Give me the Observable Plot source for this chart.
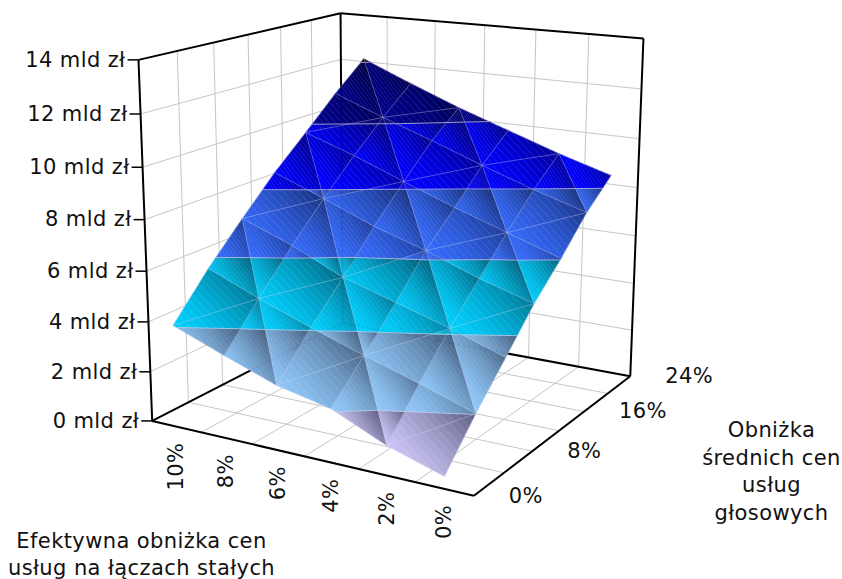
<!DOCTYPE html>
<html><head><meta charset="utf-8">
<script src="https://cdn.jsdelivr.net/npm/d3@7"></script>
<script src="https://cdn.jsdelivr.net/npm/@observablehq/plot@0.6"></script>
<style>html,body{margin:0;background:#fff}svg{display:block}</style>
</head><body>
<div id="chart"></div>
<script>
// Savings surface: fixed-link price cut (columns) against voice price cut (rows)
const fixedCuts = [0, 2, 4, 6, 8, 10];
const voiceCuts = [0, 4, 8, 12, 16, 20, 24];
const voiceTicks = [0, 8, 16, 24];
const valueTicks = [0, 2, 4, 6, 8, 10, 12, 14];
const savings0  = [0.47, 2.02, 3.43, 4.86, 6.04, 7.34, 8.36];
const savings2  = [1.14, 2.73, 4.16, 5.49, 6.75, 7.98, 9.00];
const savings4  = [2.08, 3.39, 4.80, 6.26, 7.46, 8.70, 9.72];
const savings6  = [2.53, 4.08, 5.43, 6.91, 8.23, 9.47, 10.45];
const savings8  = [3.27, 4.85, 6.37, 7.74, 9.03, 10.20, 11.26];
const savings10 = [4.05, 5.69, 7.14, 8.52, 9.74, 10.99, 12.12];
const savings = [savings0, savings2, savings4, savings6, savings8, savings10];

// Colour bands, one per 2 mld zł step: light end, dark end
const bands = [
  {lo: 0,  hi: 2,  light: [208, 202, 252], dark: [92, 92, 130]},
  {lo: 2,  hi: 4,  light: [144, 200, 250], dark: [66, 92, 124]},
  {lo: 4,  hi: 6,  light: [0, 206, 252],   dark: [0, 98, 124]},
  {lo: 6,  hi: 8,  light: [52, 106, 250],  dark: [24, 48, 124]},
  {lo: 8,  hi: 10, light: [0, 0, 254],     dark: [0, 0, 124]},
  {lo: 10, hi: 12, light: [0, 0, 140],     dark: [0, 0, 64]},
  {lo: 12, hi: 14, light: [0, 0, 30],      dark: [0, 0, 10]}
];

// View transform of the unit box (homogeneous camera matrix)
const camera = [
  [-304.4185, 278.5634, -23.72681, 473.3477],
  [-27.08330, -46.55789, -405.7433, 495.2772],
  [0.1136353, 0.1939761, -0.06141278, 1]
];
// Fixed cuts sit in the middle of six slots, voice cuts run wall to wall
const slots = 6;
const project = (a, b, z) => {
  const u = (a / 2 + 0.5) / slots, v = b / 24, t = z / 14;
  const [p, q, w] = camera.map((r) => r[0] * u + r[1] * v + r[2] * t + r[3]);
  return [p / w, q / w];
};
const A_MIN = -1, A_MAX = 11, B_MAX = 24, Z_MAX = 14;
const slotA = d3.range(0, slots + 1).map((k) => k * 2 - 1);
const slotB = d3.range(0, slots + 1).map((k) => k * 4);

// Each segment is projected into a row of the links table
const seg = (p0, p1) => {
  const [x1, y1] = project(...p0), [x2, y2] = project(...p1);
  return {x1, y1, x2, y2};
};

// Back walls and floor
const grid = [];
for (const a of slotA.slice(1, -1)) {
  grid.push(seg([a, 0, 0], [a, B_MAX, 0]), seg([a, B_MAX, 0], [a, B_MAX, Z_MAX]));
}
for (const b of slotB.slice(1, -1)) {
  grid.push(seg([A_MIN, b, 0], [A_MAX, b, 0]), seg([A_MAX, b, 0], [A_MAX, b, Z_MAX]));
}
for (const z of valueTicks.slice(1, -1)) {
  grid.push(seg([A_MAX, 0, z], [A_MAX, B_MAX, z]), seg([A_MAX, B_MAX, z], [A_MIN, B_MAX, z]));
}
const frame = [
  seg([A_MIN, 0, 0], [A_MAX, 0, 0]),
  seg([A_MIN, 0, 0], [A_MIN, B_MAX, 0]),
  seg([A_MAX, 0, 0], [A_MAX, B_MAX, 0]),
  seg([A_MIN, B_MAX, 0], [A_MAX, B_MAX, 0]),
  seg([A_MAX, 0, 0], [A_MAX, 0, Z_MAX]),
  seg([A_MAX, B_MAX, 0], [A_MAX, B_MAX, Z_MAX]),
  seg([A_MIN, B_MAX, 0], [A_MIN, B_MAX, Z_MAX]),
  seg([A_MAX, 0, Z_MAX], [A_MAX, B_MAX, Z_MAX]),
  seg([A_MAX, B_MAX, Z_MAX], [A_MIN, B_MAX, Z_MAX])
];

// Triangles of the mesh: every cell is split along the diagonal joining its odd vertices
const vertex = (i, j) => ({a: fixedCuts[i], b: voiceCuts[j], z: savings[i][j]});
const triangles = [], meshEdges = [];
const edge = (p, q) => meshEdges.push(seg([p.a, p.b, p.z], [q.a, q.b, q.z]));
for (let i = 0; i < fixedCuts.length; i++) {
  for (let j = 0; j < voiceCuts.length; j++) {
    if (i + 1 < fixedCuts.length) edge(vertex(i, j), vertex(i + 1, j));
    if (j + 1 < voiceCuts.length) edge(vertex(i, j), vertex(i, j + 1));
    if (i + 1 < fixedCuts.length && j + 1 < voiceCuts.length) {
      const p = vertex(i, j), q = vertex(i + 1, j), r = vertex(i, j + 1), s = vertex(i + 1, j + 1);
      if ((i + j) % 2 === 0) {
        edge(q, r);
        triangles.push([p, q, r], [s, q, r]);
      } else {
        edge(p, s);
        triangles.push([q, p, s], [r, p, s]);
      }
    }
  }
}

// Keep the part of a polygon where key(vertex) lies within [lo, hi]
const keys = ["a", "b", "z", "shade"];
const lerpV = (p, q, t) => Object.fromEntries(keys.map((k) => [k, p[k] + (q[k] - p[k]) * t]));
function clipAbove(poly, key, level, sign) {
  const out = [];
  poly.forEach((p, n) => {
    const q = poly[(n + 1) % poly.length];
    const dp = sign * (key(p) - level), dq = sign * (key(q) - level);
    if (dp >= 0) out.push(p);
    if (dp * dq < 0) out.push(lerpV(p, q, dp / (dp - dq)));
  });
  return out;
}
const clipRange = (poly, key, lo, hi) => clipAbove(clipAbove(poly, key, lo, 1), key, hi, -1);

const mix = (c0, c1, t) => `rgb(${c0.map((v, n) => Math.round(v + (c1[n] - v) * t)).join(",")})`;

// Shaded facets: each triangle is cut into colour bands and then into fine tone strips.
// Tone runs from light to dark across every piece, so neighbouring facets contrast.
const facetRows = [], contourLines = [];
const TONES = 16;
let facetId = 0;
for (const tri of triangles) {
  const shaded = tri.map((p) => {
    const [x, y] = project(p.a, p.b, p.z);
    return {...p, shade: x - 0.5 * y};
  });
  for (const band of bands) {
    const part = clipRange(shaded, (p) => p.z, band.lo, band.hi);
    if (part.length < 3) continue;
    const [s0, s1] = d3.extent(part, (p) => p.shade);
    const tone = (p) => 0.25 * (p.z - band.lo) / (band.hi - band.lo) + 0.75 * (p.shade - s0) / (s1 - s0);
    for (let k = 0; k < TONES; k++) {
      const strip = clipRange(part, tone, k / TONES, (k + 1) / TONES);
      if (strip.length < 3) continue;
      const colour = mix(band.light, band.dark, Math.pow((k + 0.5) / TONES, 1.5));
      const id = facetId++;
      for (const p of strip) {
        const [x, y] = project(p.a, p.b, p.z);
        facetRows.push({id, x, y, colour});
      }
    }
  }
  // Contour where the triangle crosses a band boundary
  for (const level of valueTicks) {
    const cross = [];
    tri.forEach((p, n) => {
      const q = tri[(n + 1) % 3];
      if ((p.z - level) * (q.z - level) < 0) {
        const t = (level - p.z) / (q.z - p.z);
        cross.push([p.a + (q.a - p.a) * t, p.b + (q.b - p.b) * t, level]);
      }
    });
    if (cross.length === 2) contourLines.push(seg(cross[0], cross[1]));
  }
}

// Axis tick marks and labels
const pt = (a, b, z) => { const [x, y] = project(a, b, z); return {x, y}; };
const valueRows = valueTicks.map((z) => ({...pt(A_MAX, 0, z), label: `${z} mld zł`}));
const fixedRows = fixedCuts.map((a) => ({...pt(a, 0, 0), label: `${a}%`}));
const voiceRows = voiceTicks.map((b) => ({...pt(A_MIN, b, 0), label: `${b}%`}));
const titles = [
  {x: 141, y: 552, text: "Efektywna obniżka cen\nusług na łączach stałych"},
  {x: 771, y: 469, text: "Obniżka\nśrednich cen\nusług\ngłosowych"}
];

const FONT = "'DejaVu Sans', Verdana, sans-serif";
const link = (rows, opts) => Plot.link(rows, {x1: "x1", y1: "y1", x2: "x2", y2: "y2", ...opts});

const chart = Plot.plot({
  width: 842,
  height: 579,
  margin: 0,
  style: {background: "white", fontFamily: FONT, letterSpacing: "0.4px"},
  x: {type: "identity", axis: null},
  y: {type: "identity", axis: null},
  color: {type: "identity"},
  marks: [
    link(grid, {stroke: "#c6c6c6", strokeWidth: 1}),
    link(frame, {stroke: "black", strokeWidth: 2}),
    Plot.link(valueRows, {x1: (d) => d.x - 11, x2: "x", y1: "y", y2: "y", stroke: "black", strokeWidth: 1.5}),
    Plot.line(facetRows, {x: "x", y: "y", z: "id", fill: "colour", stroke: "colour", strokeWidth: 0.4, curve: "linear-closed"}),
    link(meshEdges, {stroke: "#d4d4f0", strokeOpacity: 0.4, strokeWidth: 0.8}),
    link(contourLines, {stroke: "#c8c8e4", strokeOpacity: 0.75, strokeWidth: 1}),
    Plot.text(valueRows, {x: "x", y: "y", text: "label", dx: -13, textAnchor: "end", fontSize: 21, fill: "#111"}),
    Plot.text(fixedRows, {x: "x", y: "y", text: "label", dy: 16, rotate: -90, textAnchor: "end", fontSize: 21, fill: "#111"}),
    Plot.text(voiceRows, {x: "x", y: "y", text: "label", dx: 35, textAnchor: "start", fontSize: 21, fill: "#111"}),
    Plot.text(titles, {x: "x", y: "y", text: "text", fontSize: 21, lineHeight: 1.31, textAnchor: "middle", fill: "#111"})
  ]
});
document.getElementById("chart").appendChild(chart);
</script></body></html>
